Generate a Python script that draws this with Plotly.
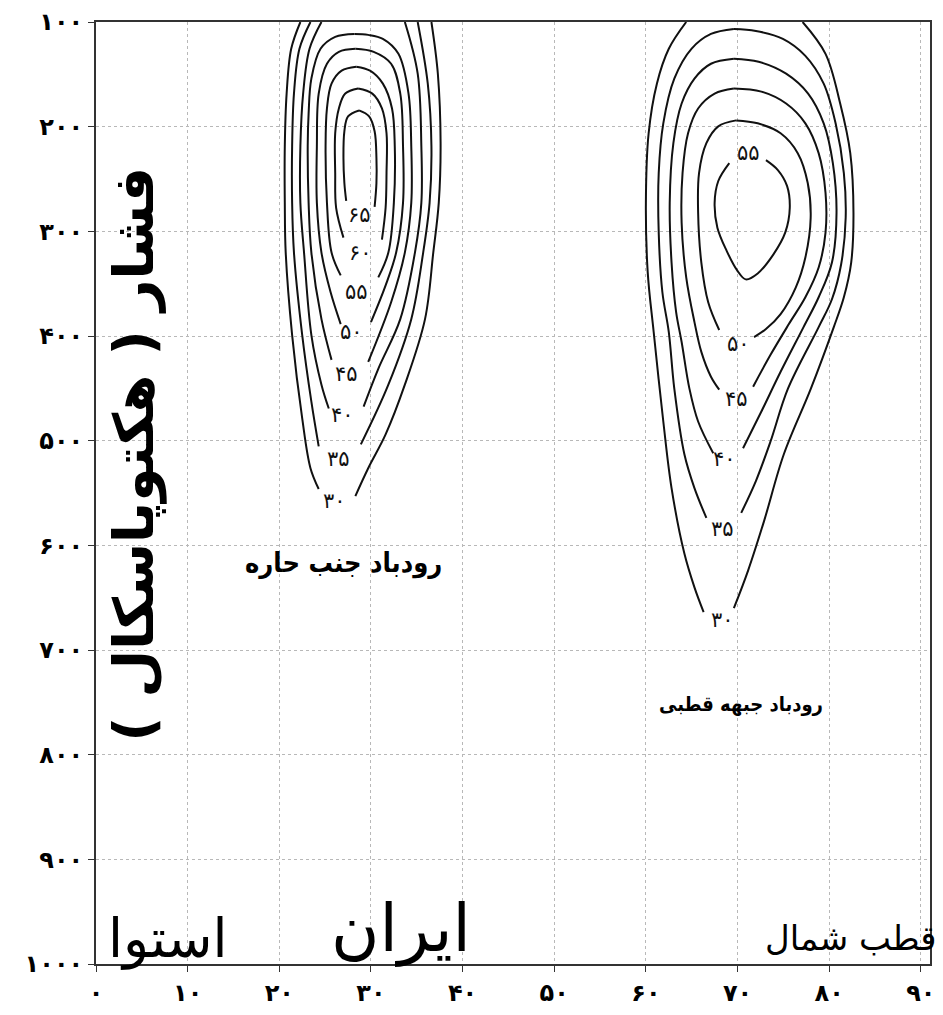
import plotly.graph_objects as go

# Axis ticks: latitude (degrees north) and pressure (hPa)
LAT_TICKS = [0, 10, 20, 30, 40, 50, 60, 70, 80, 90]
P_TICKS = [100, 200, 300, 400, 500, 600, 700, 800, 900, 1000]

# Subtropical jet isotachs (m/s): each path runs from the left top, through the
# label point at its lowest pressure level, and back up the right side.
STJ_LEVELS = [30, 35, 40, 45, 50, 55, 60, 65]
STJ_LAT = [
    [22.3, 21.3, 20.8, 20.6, 20.6, 20.7, 21.4, 22.5, 23.4, 24.3, 26.0, 28.3, 29.7, 31.6, 33.7, 35.9, 36.8, 37.4, 37.6, 37.3, 36.6],
    [23.4, 22.2, 21.6, 21.4, 21.4, 21.6, 22.5, 23.5, 24.3, 26.5, 28.9, 31.9, 34.4, 35.7, 36.4, 36.6, 36.2, 35.1],
    [24.6, 23.3, 22.6, 22.3, 22.3, 22.7, 23.5, 24.6, 25.4, 26.9, 29.2, 30.8, 33.2, 34.8, 35.5, 35.5, 35.1, 33.7],
    [28.2, 26.1, 24.5, 23.5, 23.2, 23.1, 23.2, 23.5, 24.6, 25.7, 27.3, 29.7, 32.2, 33.7, 34.4, 34.4, 34.1, 33.0, 31.3, 29.7, 28.2],
    [28.3, 26.5, 25.2, 24.3, 24.1, 24.1, 24.6, 25.6, 26.7, 27.9, 30.0, 31.6, 32.75, 33.5, 33.5, 33.2, 32.2, 30.3, 28.3],
    [28.4, 26.8, 25.7, 25.2, 25.05, 25.2, 25.7, 26.7, 28.4, 30.8, 31.9, 32.5, 32.6, 32.3, 31.3, 29.9, 28.4],
    [28.6, 27.2, 26.5, 26.1, 26.1, 26.2, 27.0, 28.85, 31.2, 31.6, 31.7, 31.7, 31.2, 30.15, 28.6],
    [28.7, 27.5, 27.1, 27.0, 27.1, 27.3, 28.7, 30.4, 30.6, 30.6, 30.4, 29.8, 28.7],
]
STJ_P = [
    [100, 125.6, 168.4, 218.7, 272.8, 320.3, 399.1, 478.8, 526.3, 546.2, 557.6, 552.9, 526.3, 494.0, 446.5, 383.9, 320.3, 272.8, 215.8, 149.4, 100],
    [100, 125.6, 168.4, 218.7, 272.8, 320.3, 399.1, 462.7, 505.4, 517.7, 503.5, 446.5, 383.9, 320.3, 272.8, 218.7, 158.9, 100],
    [100, 125.6, 168.4, 218.7, 272.8, 320.3, 399.1, 446.5, 469.3, 475.9, 467.4, 431.3, 383.9, 320.3, 272.8, 218.7, 149.4, 100],
    [111.4, 114.2, 125.6, 154.1, 187.3, 218.7, 272.8, 320.3, 383.9, 422.8, 436.1, 424.7, 367.7, 320.3, 272.8, 218.7, 168.4, 130.4, 116.1, 112.3, 111.4],
    [125.6, 128.5, 139.9, 168.4, 218.7, 272.8, 320.3, 358.2, 388.6, 396.2, 386.7, 351.6, 320.3, 272.8, 218.7, 168.4, 139.9, 128.5, 125.6],
    [142.7, 146.5, 158.9, 182.6, 218.7, 272.8, 320.3, 342.1, 358.2, 344.0, 320.3, 272.8, 218.7, 182.6, 158.9, 146.5, 142.7],
    [163.6, 168.4, 182.6, 206.3, 244.3, 277.5, 306.0, 320.3, 307.9, 277.5, 244.3, 206.3, 182.6, 168.4, 163.6],
    [184.5, 190.2, 204.4, 230.1, 253.8, 270.9, 284.2, 276.6, 253.8, 230.1, 204.4, 190.2, 184.5],
]
STJ_LABEL_AT = ["bottom"] * 8

# Polar front jet isotachs (m/s); the innermost one is labelled at its top.
PFJ_LEVELS = [30, 35, 40, 45, 50, 55]
PFJ_LAT = [
    [64.4, 62.5, 61.2, 60.3, 60.0, 60.2, 60.85, 61.9, 62.8, 64.2, 65.3, 66.3, 68.4, 69.6, 71.15, 72.9, 75.05, 78.0, 80.5, 81.6, 82.4, 82.65, 82.3, 81.2, 79.6, 77.1],
    [69.6, 67.1, 64.97, 63.1, 61.9, 61.4, 61.4, 61.8, 62.5, 63.1, 64.2, 65.3, 66.6, 68.4, 70.4, 72.0, 73.6, 75.5, 78.85, 80.3, 81.3, 81.8, 81.6, 80.7, 79.4, 77.4, 74.95, 72.0, 69.6],
    [69.6, 67.1, 65.3, 63.9, 63.0, 62.6, 62.8, 63.3, 63.9, 64.75, 65.7, 67.35, 68.55, 70.6, 72.6, 74.7, 77.2, 78.85, 80.3, 80.8, 80.4, 79.4, 77.7, 75.3, 72.3, 69.6],
    [69.6, 67.5, 65.7, 64.6, 64.0, 63.9, 64.4, 65.3, 66.05, 67.1, 68.0, 69.85, 71.7, 73.6, 75.6, 77.4, 78.85, 79.6, 79.6, 78.85, 77.4, 75.3, 72.6, 69.6],
    [69.85, 67.9, 66.6, 65.8, 65.7, 66.05, 66.8, 68.0, 70.07, 71.8, 73.1, 74.7, 76.36, 77.4, 77.98, 77.66, 76.57, 74.7, 72.2, 69.85],
    [71.15, 69.1, 67.9, 67.5, 67.8, 68.8, 69.96, 70.9, 72.2, 73.9, 75.2, 75.7, 75.4, 74.4, 73.1],
]
PFJ_P = [
    [100, 125.6, 158.9, 206.3, 272.8, 339.2, 396.2, 481.7, 545.3, 607.9, 640.2, 663.9, 671.5, 660.1, 624.1, 576.6, 513.0, 450.3, 391.5, 363.0, 329.8, 282.3, 225.3, 177.9, 130.4, 100],
    [106.6, 111.4, 125.6, 154.1, 196.8, 244.3, 301.3, 358.2, 396.2, 450.3, 513.0, 545.3, 573.8, 584.2, 569.0, 538.6, 500.7, 450.3, 391.5, 364.9, 331.7, 287.0, 244.3, 196.8, 158.9, 132.3, 116.1, 108.5, 106.6],
    [135.1, 139.9, 154.1, 177.9, 215.8, 272.8, 329.8, 377.2, 405.7, 450.3, 481.7, 512.0, 517.7, 507.3, 472.2, 434.2, 391.5, 363.0, 329.8, 282.3, 234.8, 196.8, 168.4, 149.4, 138.0, 135.1],
    [163.6, 168.4, 182.6, 206.3, 244.3, 291.8, 344.0, 386.7, 415.2, 438.9, 451.3, 459.8, 448.4, 418.0, 388.6, 363.0, 334.5, 301.3, 263.3, 225.3, 196.8, 177.9, 166.5, 163.6],
    [194.0, 199.7, 215.8, 244.3, 282.3, 329.8, 367.7, 394.3, 407.6, 401.0, 393.4, 379.1, 353.5, 325.0, 287.0, 253.8, 225.3, 206.3, 196.8, 194.0],
    [225.3, 234.8, 251.9, 272.8, 296.5, 318.4, 337.3, 345.9, 340.2, 322.2, 301.3, 277.5, 256.6, 241.5, 232.0],
]
PFJ_LABEL_AT = ["bottom"] * 5 + ["top"]

FONT = "DejaVu Sans"
FONT_NARROW = "DejaVu Sans Condensed, DejaVu Sans"
FA_DIGITS = str.maketrans("0123456789", "۰۱۲۳۴۵۶۷۸۹")


def fa(n):
    return str(n).translate(FA_DIGITS)


fig = go.Figure()


def add_isotach(level, lats, ps, label_at):
    # the label sits on the path vertex at the lowest (or highest) level;
    # the line is broken there so the number reads cleanly
    k = ps.index(max(ps)) if label_at == "bottom" else ps.index(min(ps))
    for xs, ys in ((lats[:k], ps[:k]), (lats[k + 1:], ps[k + 1:])):
        if len(xs) > 1:
            fig.add_trace(go.Scatter(
                x=xs, y=ys, mode="lines",
                line=dict(color="#111111", width=2, shape="spline", smoothing=1.0),
                hoverinfo="skip", showlegend=False,
            ))
    fig.add_annotation(
        x=lats[k], y=ps[k], text=fa(level), showarrow=False,
        font=dict(family=FONT, size=21, color="#111111"),
        xanchor="center", yanchor="middle",
    )


for lev, la, pr, side in zip(STJ_LEVELS, STJ_LAT, STJ_P, STJ_LABEL_AT):
    add_isotach(lev, la, pr, side)
for lev, la, pr, side in zip(PFJ_LEVELS, PFJ_LAT, PFJ_P, PFJ_LABEL_AT):
    add_isotach(lev, la, pr, side)

# Names of the jets and reference latitudes
texts = [
    ("رودباد جنب حاره", 27.0, 617, 27, "bold", FONT_NARROW),
    ("رودباد جبهه قطبی", 70.4, 752, 20, "bold", FONT_NARROW),
    ("استوا", 7.8, 976, 54, "normal", FONT),
    ("ایران", 33.3, 966, 66, "normal", FONT),
    ("قطب شمال", 82.4, 975, 34, "normal", FONT),
]
for txt, x, y, size, weight, family in texts:
    fig.add_annotation(
        x=x, y=y, text=txt, showarrow=False,
        font=dict(family=family, size=size, color="#000000", weight=weight),
        xanchor="center", yanchor="middle",
    )

# Vertical axis title, written inside the frame
fig.add_annotation(
    x=4.2, y=513, text="فشار ( هکتوپاسکال )\u200f", textangle=-90, showarrow=False,
    font=dict(family=FONT, size=55, color="#000000", weight="bold"),
    xanchor="center", yanchor="middle",
)

axis_common = dict(
    showline=True, mirror=True, linecolor="#333333", linewidth=2,
    ticks="outside", ticklen=6, tickcolor="#333333", tickwidth=1,
    showgrid=True, gridcolor="#b8b8b8", griddash="dot", gridwidth=1,
    zeroline=False,
    tickfont=dict(family=FONT, size=24, color="#000000", weight="bold"),
)

fig.update_xaxes(
    range=[0, 91], tickvals=LAT_TICKS, ticktext=[fa(v) for v in LAT_TICKS],
    **axis_common,
)
fig.update_yaxes(
    range=[1000, 100], tickvals=P_TICKS, ticktext=[fa(v) for v in P_TICKS],
    **axis_common,
)

fig.update_layout(
    width=943, height=1015,
    margin=dict(l=96, r=8, t=18, b=49),
    paper_bgcolor="white", plot_bgcolor="white",
    showlegend=False,
)

fig.write_html("out.html")
